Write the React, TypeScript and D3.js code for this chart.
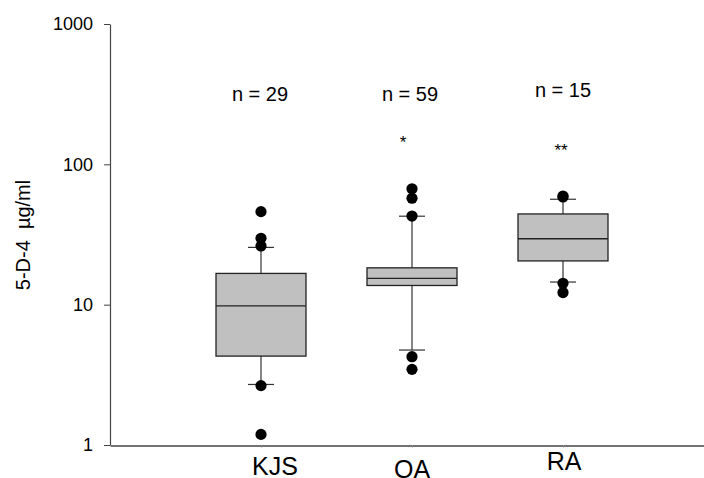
import React, { useEffect, useRef } from 'react';
import * as d3 from 'd3';

// groups and values
const groups = ['KJS', 'OA', 'RA'];
const counts = [29, 59, 15];
const q1 = [4.3, 13.7, 20.5];
const medians = [9.8, 15.4, 29.5];
const q3 = [16.7, 18.3, 44.3];
const whiskerLow = [2.7, 4.75, 14.5];
const whiskerHigh = [25.6, 42.7, 56.4];
const outliers = [
  [46, 29.7, 26.2, 2.65, 1.19],
  [67, 57.3, 42.8, 4.26, 3.46],
  [59.5, 58.5, 14.2, 12.2],
];
const significance = ['', '*', '**'];
const yTicks = [1, 10, 100, 1000];

const FONT = "'Liberation Sans', Arial, sans-serif";

function BoxPlot() {
  const ref = useRef<SVGSVGElement | null>(null);

  useEffect(() => {
    if (!ref.current) return;
    const W = 704;
    const H = 478;
    const margin = { top: 24, right: -10, bottom: 33, left: 110 };
    const width = W - margin.left - margin.right;
    const height = H - margin.top - margin.bottom;

    d3.select(ref.current).selectAll('*').remove();

    const svg = d3
      .select(ref.current)
      .attr('width', W)
      .attr('height', H)
      .append('g')
      .attr('transform', `translate(${margin.left},${margin.top})`);

    const x = d3.scalePoint<string>().domain(groups).range([0, width]).padding(1);
    const y = d3.scaleLog().domain([1, 1000]).range([height, 0]);

    const boxW = 90;
    const capW = 26;

    // y axis
    const yAxis = svg
      .append('g')
      .call(d3.axisLeft(y).tickValues(yTicks).tickFormat(d3.format('d')).tickSize(6).tickSizeOuter(0));
    yAxis.select('.domain').attr('stroke', '#444').attr('stroke-width', 1.2);
    yAxis.selectAll('line').attr('stroke', '#444');
    yAxis
      .selectAll('text')
      .attr('x', -17)
      .style('font-size', '18px')
      .style('font-family', FONT)
      .attr('fill', '#000');

    // x axis
    const xAxis = svg
      .append('g')
      .attr('transform', `translate(0,${height + 0.5})`)
      .call(d3.axisBottom(x).tickSize(2).tickSizeOuter(0).tickFormat(() => ''));
    xAxis.select('.domain').attr('stroke', '#444').attr('stroke-width', 1.4);
    xAxis.selectAll('line').attr('stroke', '#888');

    const labelNudge = [
      { dx: 14, dy: 30 },
      { dx: 0, dy: 33 },
      { dx: 1, dy: 25 },
    ];
    svg
      .selectAll('.xlab')
      .data(groups)
      .join('text')
      .attr('class', 'xlab')
      .attr('x', (d, i) => (x(d) ?? 0) + labelNudge[i].dx)
      .attr('y', (d, i) => height + labelNudge[i].dy)
      .attr('text-anchor', 'middle')
      .style('font-size', '25px')
      .style('font-family', FONT)
      .text((d) => d);

    // y label
    svg
      .append('text')
      .attr('transform', `translate(${30 - margin.left},${235 - margin.top}) rotate(-90)`)
      .attr('text-anchor', 'middle')
      .style('font-size', '20px')
      .style('font-family', FONT)
      .style('white-space', 'pre')
      .text('5-D-4  \u00b5g/ml');

    const g = svg
      .selectAll('.grp')
      .data(groups)
      .join('g')
      .attr('class', 'grp')
      .attr('transform', (d) => `translate(${x(d)},0)`);

    // whiskers
    g.append('line')
      .attr('y1', (d, i) => y(q3[i]))
      .attr('y2', (d, i) => y(whiskerHigh[i]))
      .attr('stroke', '#333')
      .attr('stroke-width', 1.2);
    g.append('line')
      .attr('y1', (d, i) => y(q1[i]))
      .attr('y2', (d, i) => y(whiskerLow[i]))
      .attr('stroke', '#333')
      .attr('stroke-width', 1.2);
    g.append('line')
      .attr('x1', -capW / 2)
      .attr('x2', capW / 2)
      .attr('y1', (d, i) => y(whiskerHigh[i]))
      .attr('y2', (d, i) => y(whiskerHigh[i]))
      .attr('stroke', '#333')
      .attr('stroke-width', 1.2);
    g.append('line')
      .attr('x1', -capW / 2)
      .attr('x2', capW / 2)
      .attr('y1', (d, i) => y(whiskerLow[i]))
      .attr('y2', (d, i) => y(whiskerLow[i]))
      .attr('stroke', '#333')
      .attr('stroke-width', 1.2);

    // boxes
    g.append('rect')
      .attr('x', -boxW / 2)
      .attr('width', boxW)
      .attr('y', (d, i) => y(q3[i]))
      .attr('height', (d, i) => y(q1[i]) - y(q3[i]))
      .attr('fill', '#c0c0c0')
      .attr('stroke', '#222')
      .attr('stroke-width', 1.3);
    g.append('line')
      .attr('x1', -boxW / 2)
      .attr('x2', boxW / 2)
      .attr('y1', (d, i) => y(medians[i]))
      .attr('y2', (d, i) => y(medians[i]))
      .attr('stroke', '#222')
      .attr('stroke-width', 1.3);

    // outlier dots
    g.selectAll('circle')
      .data((d, i) => outliers[i])
      .join('circle')
      .attr('cx', 0)
      .attr('cy', (v) => y(v))
      .attr('r', 5.6)
      .attr('fill', '#000');

    // n labels
    const nDy = [-344, -344, -348];
    g.append('text')
      .attr('x', (d, i) => (i === 0 ? -1 : i === 1 ? -2 : 0))
      .attr('y', (d, i) => height + nDy[i])
      .attr('text-anchor', 'middle')
      .style('font-size', '20px')
      .style('font-family', FONT)
      .text((d, i) => `n = ${counts[i]}`);

    // significance marks
    const sigDx = [0, -9, -2];
    const sigY = [0, 124, 132];
    g.append('text')
      .attr('x', (d, i) => sigDx[i])
      .attr('y', (d, i) => sigY[i])
      .attr('text-anchor', 'middle')
      .style('font-size', '17px')
      .style('font-family', FONT)
      .text((d, i) => significance[i]);
  }, []);

  return <svg ref={ref} style={{ position: 'absolute', left: 0, top: 0, display: 'block' }} />;
}

export default function App() {
  return <BoxPlot />;
}
